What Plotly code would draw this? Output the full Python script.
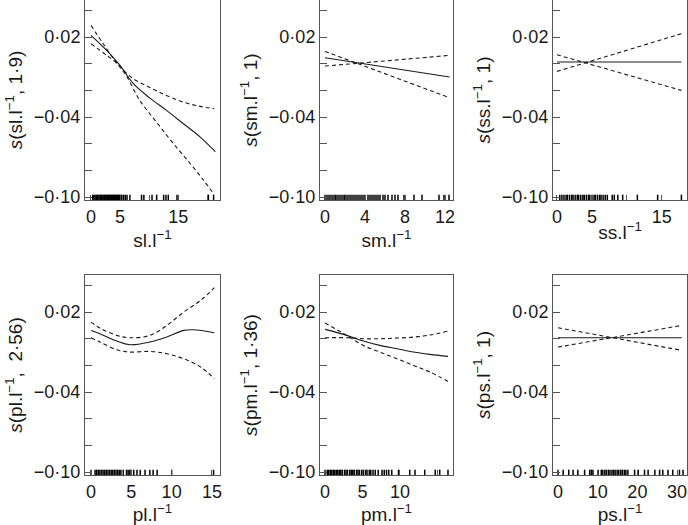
import plotly.graph_objects as go

# ---------------- data ----------------
# Panel 1: sl.l-1
sl_x = [0.0, 2.7, 5.0, 7.3, 10.2, 13.0, 15.9, 18.8, 21.4]
sl_fit = [0.0213, 0.0100, -0.0013, -0.0150, -0.0260, -0.0350, -0.0450, -0.0550, -0.0660]
sl_up_x = [0.0, 2.1, 4.1, 5.6, 7.3, 10.2, 13.0, 15.9, 18.8, 21.2]
sl_up = [0.0288, 0.0150, 0.0025, -0.0050, -0.0113, -0.0180, -0.0238, -0.0288, -0.0320, -0.0338]
sl_lo_x = [0.0, 2.7, 4.5, 6.2, 8.4, 11.3, 14.2, 17.1, 19.4, 21.1]
sl_lo = [0.0150, 0.0063, 0.0000, -0.0100, -0.0275, -0.0440, -0.0600, -0.0750, -0.0875, -0.0975]
sl_rug = [0.3, 0.5, 0.7, 0.9, 1.1, 1.2, 1.4, 1.6, 1.8, 1.9, 2.1, 2.3, 2.5, 2.6, 2.8, 3.0,
          3.2, 3.3, 3.5, 3.7, 3.9, 4.0, 4.2, 4.4, 4.6, 4.7, 4.9, 5.1, 5.3, 5.6, 5.9, 6.2,
          6.7, 8.7, 9.1, 10.5, 11.3, 12.5, 12.9, 13.3, 14.8, 20.2, 21.1]

# Panel 2: sm.l-1
sm_x = [0.0, 12.45]
sm_fit = [0.0045, -0.0100]
sm_a = [0.00925, -0.0255]
sm_b = [-0.00175, 0.00625]
sm_rug = [0.0, 0.2, 0.4, 0.6, 0.8, 1.0, 1.1, 1.3, 1.5, 1.7, 1.9, 2.0, 2.2, 2.4, 2.6, 2.8,
          3.0, 3.2, 3.4, 3.6, 3.8, 4.0, 4.3, 4.5, 4.7, 4.9, 5.1, 5.3, 5.5, 5.8, 6.0, 6.3,
          6.7, 7.0, 7.3, 7.9, 8.9, 9.7, 11.4, 11.9, 12.4]

# Panel 3: ss.l-1
ss_x = [0.0, 17.8]
ss_fit = [0.00125, 0.00125]
ss_a = [0.00675, -0.0200]
ss_b = [-0.00575, 0.0225]
ss_rug = [0.4, 0.7, 1.0, 1.3, 1.5, 1.8, 2.1, 2.3, 2.6, 2.9, 3.1, 3.4, 3.7, 3.9, 4.2, 4.5,
          4.7, 5.0, 5.3, 5.5, 5.8, 6.1, 6.3, 6.6, 6.9, 7.2, 7.9, 8.2, 8.7, 9.4, 11.5, 14.4, 17.8]

# Panel 4: pl.l-1
pl_x = [0.0, 1.1, 3.2, 4.8, 7.3, 9.4, 11.5, 12.7, 15.3]
pl_fit = [0.00625, 0.00375, -0.00175, -0.0045, -0.0025, 0.00125, 0.00625, 0.00675, 0.0045]
pl_up_x = [0.0, 1.1, 3.2, 4.8, 7.3, 9.4, 11.5, 13.6, 15.3]
pl_up = [0.0125, 0.0080, 0.0025, 0.00075, 0.0025, 0.0100, 0.0200, 0.02875, 0.03825]
pl_lo_x = [0.0, 1.1, 3.2, 4.8, 7.3, 9.4, 11.5, 13.6, 15.3]
pl_lo = [0.00075, -0.0025, -0.00825, -0.0100, -0.0095, -0.01125, -0.0150, -0.02125, -0.0300]
pl_rug = [0.0, 0.5, 0.7, 0.9, 1.1, 1.3, 1.5, 1.7, 1.9, 2.1, 2.3, 2.5, 2.7, 2.9, 3.1, 3.3,
          3.5, 3.7, 4.0, 4.4, 4.6, 4.8, 5.0, 5.3, 5.7, 6.1, 6.7, 7.3, 7.7, 8.2, 10.0, 15.2]

# Panel 5: pm.l-1
pm_x = [0.0, 2.9, 5.1, 7.3, 9.6, 11.8, 14.0, 16.4]
pm_fit = [0.0070, 0.0025, -0.00175, -0.0050, -0.0075, -0.0100, -0.01175, -0.01325]
pm_a = [0.01175, 0.0025, -0.0050, -0.0100, -0.0150, -0.0200, -0.0250, -0.0320]
pm_b = [0.00075, 0.00075, 0.0000, 0.0000, 0.0005, 0.00125, 0.00275, 0.00575]
pm_rug = [0.0, 0.3, 0.5, 0.7, 0.9, 1.1, 1.3, 1.5, 1.7, 1.9, 2.1, 2.3, 2.6, 2.8, 3.0, 3.3,
          3.5, 3.7, 3.9, 4.2, 4.4, 4.6, 4.9, 5.1, 5.4, 5.6, 5.9, 6.1, 6.4, 6.7, 7.1, 7.6,
          7.9, 8.2, 8.5, 8.9, 9.8, 11.3, 12.0, 13.3, 14.7, 15.3, 16.4]

# Panel 6: ps.l-1
ps_x = [0.0, 31.2]
ps_fit = [0.00075, 0.00075]
ps_a = [0.00825, -0.00875]
ps_b = [-0.00625, 0.0100]
ps_rug = [0.0, 1.3, 2.7, 3.8, 5.0, 6.7, 8.0, 8.4, 8.8, 10.1, 10.9, 11.3, 11.8, 12.2, 12.7,
          13.1, 13.6, 14.0, 14.4, 14.9, 15.3, 15.8, 16.2, 16.7, 17.1, 17.6, 19.3, 20.2,
          21.8, 22.7, 24.4, 25.6, 26.4, 27.7, 28.9, 30.6, 31.5]

y_ticks = [0.04, 0.02, 0.0, -0.02, -0.04, -0.06, -0.08, -0.10]
y_text = ["", "0·02", "", "", "−0·04", "", "", "−0·10"]

panels = [
    dict(ytitle="<i>s</i>(sl.l<sup>−1</sup>, 1·9)", xtitle="sl.l<sup>−1</sup>",
         curves=[(sl_x, sl_fit, "solid"), (sl_up_x, sl_up, "dash"), (sl_lo_x, sl_lo, "dash")],
         rug=sl_rug, xr=[-1.03, 22.2], xt=[0, 5, 10, 15, 20], xtt=["0", "5", "", "15", ""]),
    dict(ytitle="<i>s</i>(sm.l<sup>−1</sup>, 1)", xtitle="sm.l<sup>−1</sup>",
         curves=[(sm_x, sm_fit, "solid"), (sm_x, sm_a, "dash"), (sm_x, sm_b, "dash")],
         rug=sm_rug, xr=[-0.5, 12.8], xt=[0, 4, 8, 12], xtt=["0", "4", "8", "12"]),
    dict(ytitle="<i>s</i>(ss.l<sup>−1</sup>, 1)", xtitle="ss.l<sup>−1</sup>",
         curves=[(ss_x, ss_fit, "solid"), (ss_x, ss_a, "dash"), (ss_x, ss_b, "dash")],
         rug=ss_rug, xr=[-0.57, 18.6], xt=[0, 5, 10, 15], xtt=["0", "5", "", "15"]),
    dict(ytitle="<i>s</i>(pl.l<sup>−1</sup>,  2·56)", xtitle="pl.l<sup>−1</sup>",
         curves=[(pl_x, pl_fit, "solid"), (pl_up_x, pl_up, "dash"), (pl_lo_x, pl_lo, "dash")],
         rug=pl_rug, xr=[-0.75, 16.0], xt=[0, 5, 10, 15], xtt=["0", "5", "10", "15"]),
    dict(ytitle="<i>s</i>(pm.l<sup>−1</sup>, 1·36)", xtitle="pm.l<sup>−1</sup>",
         curves=[(pm_x, pm_fit, "solid"), (pm_x, pm_a, "dash"), (pm_x, pm_b, "dash")],
         rug=pm_rug, xr=[-0.67, 17.07], xt=[0, 5, 10, 15], xtt=["0", "5", "10", ""]),
    dict(ytitle="<i>s</i>(ps.l<sup>−1</sup>, 1)", xtitle="ps.l<sup>−1</sup>",
         curves=[(ps_x, ps_fit, "solid"), (ps_x, ps_a, "dash"), (ps_x, ps_b, "dash")],
         rug=ps_rug, xr=[-1.26, 32.5], xt=[0, 10, 20, 30], xtt=["0", "10", "20", "30"]),
]

W, H = 688, 525
x_dom_px = [(85, 220), (320, 453), (553, 687)]
y_dom_px = [(0, 200), (275, 475)]
YR = [-0.1022, 0.0478]
FONT = "Liberation Sans, Arial, sans-serif"
INK = "#1a1a1a"
BOX = "#555555"
TICKSIZE = 18
TITLESIZE = 19

fig = go.Figure()
layout = dict(width=W, height=H, margin=dict(l=0, r=0, t=0, b=0, autoexpand=False),
              paper_bgcolor="white", plot_bgcolor="white", showlegend=False,
              font=dict(family=FONT, size=TICKSIZE, color=INK))

rug_h = 0.004
for i, p in enumerate(panels):
    row, col = divmod(i, 3)
    ax = "" if i == 0 else str(i + 1)
    xd = [x_dom_px[col][0] / W, x_dom_px[col][1] / W]
    yd = [1 - y_dom_px[row][1] / H, 1 - y_dom_px[row][0] / H]
    for xs, ys, dash in p["curves"]:
        fig.add_trace(go.Scatter(x=xs, y=ys, mode="lines", xaxis="x" + ax, yaxis="y" + ax,
                                 line=dict(color=INK, width=1.1,
                                           dash="solid" if dash == "solid" else "4px,3px",
                                           shape="spline" if len(xs) > 2 else "linear"),
                                 hoverinfo="skip"))
    rx, ry = [], []
    for v in p["rug"]:
        rx += [v, v, None]
        ry += [YR[0], YR[0] + rug_h, None]
    fig.add_trace(go.Scatter(x=rx, y=ry, mode="lines", xaxis="x" + ax, yaxis="y" + ax,
                             line=dict(color="#000000", width=1.5), hoverinfo="skip"))
    layout["xaxis" + ax] = dict(domain=xd, anchor="y" + ax, range=p["xr"], showgrid=False,
                                zeroline=False, showline=True, linecolor=BOX, linewidth=1,
                                mirror=True, ticks="inside", ticklen=5, tickcolor=BOX,
                                tickvals=p["xt"], ticktext=p["xtt"], automargin=False,
                                tickfont=dict(size=TICKSIZE, color=INK),
                                title=dict(text=p["xtitle"], font=dict(size=TITLESIZE, color=INK), standoff=0))
    layout["yaxis" + ax] = dict(domain=yd, anchor="x" + ax, range=YR, showgrid=False,
                                zeroline=False, showline=True, linecolor=BOX, linewidth=1,
                                mirror=True, ticks="inside", ticklen=7, tickcolor=BOX,
                                tickvals=y_ticks, ticktext=y_text, automargin=False,
                                tickfont=dict(size=TICKSIZE, color=INK),
                                title=dict(text=p["ytitle"], font=dict(size=TITLESIZE, color=INK), standoff=6))

fig.update_layout(**layout)
fig.write_html("out.html", config={"displayModeBar": False, "staticPlot": True},
               post_script="document.body.style.margin='0';document.body.style.overflow='hidden';")
